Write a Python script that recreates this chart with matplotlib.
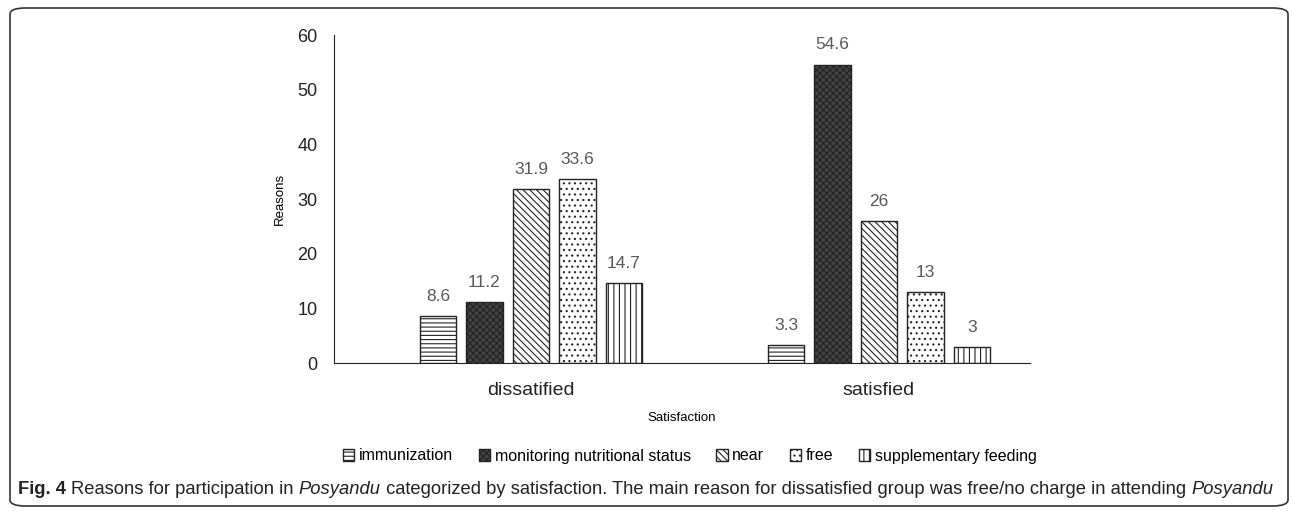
import numpy as np
import matplotlib.pyplot as plt
from matplotlib.patches import FancyBboxPatch

plt.rcParams['hatch.linewidth'] = 0.8
plt.rcParams['font.family'] = ['Liberation Sans', 'DejaVu Sans']

groups = ["dissatified", "satisfied"]
reasons = ["immunization", "monitoring nutritional status", "near", "free",
           "supplementary feeding"]
values = {
    "immunization": [8.6, 3.3],
    "monitoring nutritional status": [11.2, 54.6],
    "near": [31.9, 26],
    "free": [33.6, 13],
    "supplementary feeding": [14.7, 3],
}
labels = {
    "immunization": ["8.6", "3.3"],
    "monitoring nutritional status": ["11.2", "54.6"],
    "near": ["31.9", "26"],
    "free": ["33.6", "13"],
    "supplementary feeding": ["14.7", "3"],
}
hatches = ["----", "xxxxx", "\\\\\\\\\\", "...", "|||"]
fills = ["white", "#444444", "white", "white", "white"]

W, H = 1292, 511
fig = plt.figure(figsize=(W / 100, H / 100), dpi=100)
ax = fig.add_axes([334 / W, 1 - 363 / H, (1030 - 334) / W, (363 - 35) / H])

x = np.arange(len(groups))
step = 0.1336
width = 0.106
for i, r in enumerate(reasons):
    pos = x + (i - 2) * step
    bars = ax.bar(pos, values[r], width, color=fills[i], edgecolor="#222222",
                  hatch=hatches[i], linewidth=1.0, label=r)
    for b, t in zip(bars, labels[r]):
        ax.text(b.get_x() + b.get_width() / 2, b.get_height() + 2.2, t,
                ha="center", va="bottom", fontsize=12.5, color="#595959")

ax.set_xlim(-0.566, 1.434)
ax.set_ylim(0, 60)
ax.set_yticks(range(0, 61, 10))
ax.set_xticks(x)
ax.set_xticklabels(groups, fontsize=14, color="#222222")
ax.tick_params(axis="y", length=0, labelsize=13, pad=12, labelcolor="#222222")
ax.tick_params(axis="x", length=0, pad=14)
for s in ["top", "right"]:
    ax.spines[s].set_visible(False)
ax.spines["left"].set_color("#222222")
ax.spines["bottom"].set_color("#222222")
ax.set_ylabel("Reasons", fontsize=9.5, labelpad=8)
ax.set_xlabel("Satisfaction", fontsize=9.5, labelpad=9)

fig.legend(loc="center", bbox_to_anchor=(690 / W, 1 - 456 / H), ncol=5, frameon=False,
           fontsize=11.5, handlelength=0.7, handleheight=0.7, handletextpad=0.3,
           columnspacing=1.6)

# border
fig.patches.append(FancyBboxPatch((10 / W, 1 - 506 / H), (1288 - 10) / W, (506 - 8) / H,
                                  boxstyle="round,pad=0,rounding_size=0.012",
                                  transform=fig.transFigure, fill=False,
                                  edgecolor="#333333", linewidth=1.2))

# caption, scaled to fit the reference width
fam = ["DejaVu Sans Condensed", "Liberation Sans", "DejaVu Sans"]
pieces = [("Fig. 4 ", "bold", "normal"),
          ("Reasons for participation in ", "normal", "normal"),
          ("Posyandu", "normal", "italic"),
          (" categorized by satisfaction. The main reason for dissatisfied group was free/no charge in attending ", "normal", "normal"),
          ("Posyandu", "normal", "italic")]
fig.canvas.draw()
r = fig.canvas.get_renderer()


def caption_width(size):
    tot = 0
    for txt, wgt, sty in pieces:
        t = fig.text(0, 0, txt, fontsize=size, family=fam, weight=wgt, style=sty)
        tot += t.get_window_extent(renderer=r).width
        t.remove()
    return tot


size = 12 * 1258 / caption_width(12)
xpos = 18 / W
for txt, wgt, sty in pieces:
    t = fig.text(xpos, 1 - 490 / H, txt, fontsize=size, family=fam, weight=wgt,
                 style=sty, va="center", ha="left", color="#222222")
    xpos += t.get_window_extent(renderer=r).width / W

fig.savefig("out.png", dpi=100)
